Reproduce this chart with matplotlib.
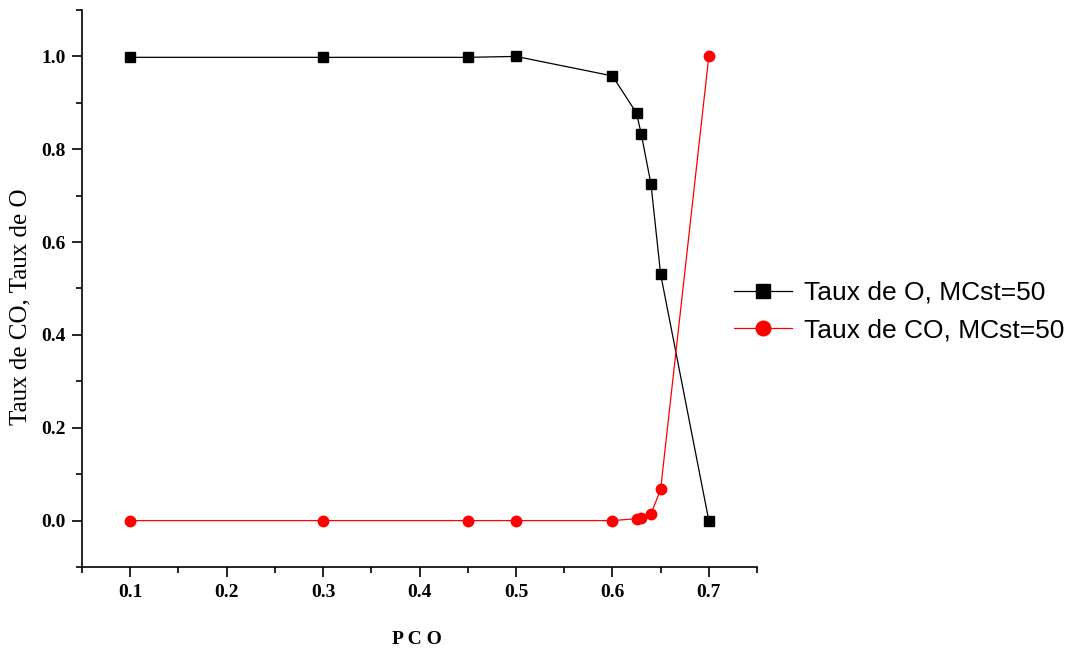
import matplotlib
matplotlib.use("Agg")
from matplotlib import pyplot as plt
from matplotlib.ticker import MultipleLocator

# valeurs
pco = [0.1, 0.3, 0.45, 0.5, 0.6, 0.625, 0.63, 0.64, 0.65, 0.7]
taux_o = [0.998, 0.998, 0.998, 1.0, 0.958, 0.878, 0.832, 0.725, 0.531, 0.0]
taux_co = [0.0, 0.0, 0.0, 0.0, 0.0, 0.004, 0.005, 0.014, 0.067, 1.0]

label_o = "Taux de O, MCst=50"
label_co = "Taux de CO, MCst=50"

fig = plt.figure(figsize=(10.67, 6.53), dpi=100)
ax = fig.add_axes([0.0769, 0.1317, 0.6326, 0.853])

ax.plot(pco, taux_o, color="black", linewidth=0.9, marker="s",
        markersize=7, label=label_o)
ax.plot(pco, taux_co, color="red", linewidth=0.9, marker="o",
        markersize=7.5, label=label_co)

ax.set_xlim(0.05, 0.75)
ax.set_ylim(-0.1, 1.1)
ax.xaxis.set_major_locator(MultipleLocator(0.1))
ax.xaxis.set_minor_locator(MultipleLocator(0.05))
ax.yaxis.set_major_locator(MultipleLocator(0.2))
ax.yaxis.set_minor_locator(MultipleLocator(0.1))

ax.spines["top"].set_visible(False)
ax.spines["right"].set_visible(False)
for s in ["left", "bottom"]:
    ax.spines[s].set_linewidth(1.2)

ax.tick_params(which="major", direction="out", length=7, width=1.2, pad=5)
ax.tick_params(which="minor", direction="out", length=4, width=1.2)

tick_font = {"family": "Liberation Serif", "weight": "bold", "size": 14}
ax.set_xticks(ax.get_xticks())
ax.set_xticklabels([f"{v:.1f}" for v in ax.get_xticks()], fontdict=tick_font)
ax.set_yticks(ax.get_yticks())
ax.set_yticklabels([f"{v:.1f}" for v in ax.get_yticks()], fontdict=tick_font)
ax.set_xlim(0.05, 0.75)
ax.set_ylim(-0.1, 1.1)

ax.set_xlabel("P C O", family="Liberation Serif", weight="bold", fontsize=14)
ax.xaxis.set_label_coords(0.496, -0.115)
ax.set_ylabel("Taux de CO, Taux de O", family="Liberation Serif", fontsize=18)
ax.yaxis.set_label_coords(-0.075, 0.467)

ax.legend(loc="center left", bbox_to_anchor=(0.666, 0.523),
          bbox_transform=fig.transFigure, frameon=False,
          prop={"family": "Liberation Sans", "size": 19},
          handlelength=2.2, handletextpad=0.45, labelspacing=0.5,
          markerscale=1.4)

fig.savefig("out.png", dpi=100)
